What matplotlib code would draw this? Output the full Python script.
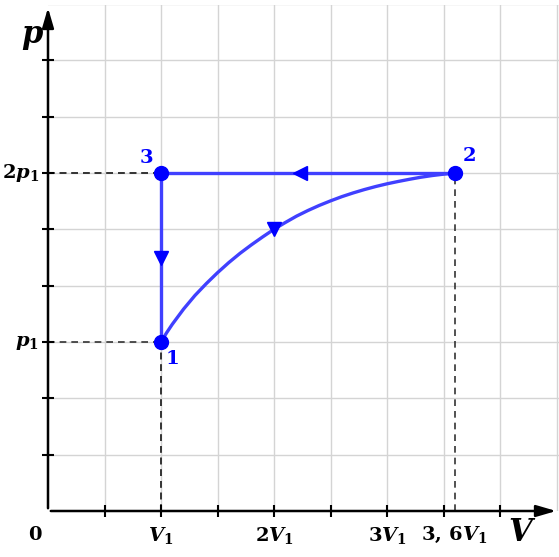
"""
p-V diagram: cycle 1 -> 2 -> 3 -> 1
"""
import numpy as np
import matplotlib
matplotlib.use('Agg')
import matplotlib.pyplot as plt

plt.rcParams['mathtext.fontset'] = 'custom'
plt.rcParams['mathtext.it'] = 'DejaVu Serif:italic:bold'
plt.rcParams['mathtext.rm'] = 'DejaVu Serif:bold'
plt.rcParams['mathtext.bf'] = 'DejaVu Serif:bold'

# states (V in V1, p in p1)
state_names = ['1', '2', '3']
state_V = [1.0, 3.6, 1.0]
state_p = [1.0, 2.0, 2.0]

# curve 1-2
curve_V = [1.0, 1.05, 1.1, 1.15, 1.2, 1.3, 1.4, 1.5, 1.6, 1.7, 1.8, 1.9, 2.0,
           2.1, 2.2, 2.3, 2.4, 2.5, 2.6, 2.7, 2.8, 2.9, 3.0, 3.1, 3.2, 3.3, 3.4, 3.5, 3.6]
curve_p = [1.0, 1.055, 1.105, 1.15, 1.195, 1.275, 1.345, 1.41, 1.47, 1.525, 1.575, 1.622, 1.667,
           1.707, 1.745, 1.778, 1.808, 1.835, 1.86, 1.882, 1.902, 1.92, 1.936, 1.95, 1.963, 1.975,
           1.985, 1.993, 2.0]

V_ticks = [0.5, 1, 1.5, 2, 2.5, 3, 3.5, 4]
p_ticks = [1/3, 2/3, 1, 4/3, 5/3, 2, 7/3, 8/3]
V_labels = {1: r'$V_1$', 2: r'$2V_1$', 3: r'$3V_1$', 3.6: r'$3,\,6V_1$'}
p_labels = {1: r'$p_1$', 2: r'$2p_1$'}

blue = '#4040ff'
dot = '#0000ff'

fig = plt.figure(figsize=(5.59, 5.57), dpi=100)
ax = fig.add_axes([48/559, 46/557, 511/559, 506/557])
ax.set_xlim(0, 511/113)
ax.set_ylim(0, 506/169)

for v in np.arange(0.5, 4.6, 0.5):
    ax.axvline(v, color='#d4d4d4', lw=1, zorder=0)
for k in range(1, 10):
    ax.axhline(k/3, color='#d4d4d4', lw=1, zorder=0)

for s in ['top', 'right', 'left', 'bottom']:
    ax.spines[s].set_visible(False)
ax.annotate('', xy=(1.0, 0), xytext=(0, 0), xycoords='axes fraction',
            arrowprops=dict(arrowstyle='-|>,head_length=1.2,head_width=0.35', color='black', lw=1.8),
            annotation_clip=False)
ax.annotate('', xy=(0, 1.0), xytext=(0, 0), xycoords='axes fraction',
            arrowprops=dict(arrowstyle='-|>,head_length=1.2,head_width=0.35', color='black', lw=1.8),
            annotation_clip=False)

ax.set_xticks(V_ticks)
ax.set_yticks(p_ticks)
ax.set_xticklabels([])
ax.set_yticklabels([])
ax.tick_params(direction='inout', length=9, width=1.5, color='black')

# dashed guides
for v, p in zip(state_V, state_p):
    ax.plot([0, v], [p, p], color='#333333', lw=1.2, dashes=(4, 3), zorder=1)
    ax.plot([v, v], [0, p], color='#333333', lw=1.2, dashes=(4, 3), zorder=1)

# cycle
ax.plot(curve_V, curve_p, color=blue, lw=2.4, zorder=3, solid_joinstyle='round')
ax.plot([state_V[1], state_V[2]], [state_p[1], state_p[2]], color=blue, lw=2.4, zorder=3)
ax.plot([state_V[2], state_V[0]], [state_p[2], state_p[0]], color=blue, lw=2.4, zorder=3)
ax.plot(state_V, state_p, 'o', color=dot, ms=10, zorder=4, clip_on=False)

# direction arrows
ax.plot([2.23], [2.0], marker='<', color=dot, ms=10, zorder=4)
ax.plot([1.0], [1.5], marker='v', color=dot, ms=10, zorder=4)
ax.plot([2.0], [1.667], marker='v', color=dot, ms=10, zorder=4)

# state labels
lab_kw = dict(color=dot, fontsize=14, fontfamily='DejaVu Serif', fontweight='bold',
              ha='center', va='center')
ax.text(0.87, 2.09, '3', **lab_kw)
ax.text(3.73, 2.1, '2', **lab_kw)
ax.text(1.1, 0.9, '1', **lab_kw)

# axis labels
for v, lab in V_labels.items():
    ax.text(v, -0.08, lab, ha='center', va='top', fontsize=14)
ax.text(-0.11, -0.08, r'$\mathbf{0}$', ha='center', va='top', fontsize=14)
for p, lab in p_labels.items():
    ax.text(-0.08, p, lab, ha='right', va='center', fontsize=14)
ax.text(-0.14, 2.8, r'$p$', ha='center', va='center', fontsize=22)
ax.text(4.2, -0.13, r'$V$', ha='center', va='center', fontsize=22)

plt.savefig('out.png', dpi=100)
print('Saved -> out.png')
